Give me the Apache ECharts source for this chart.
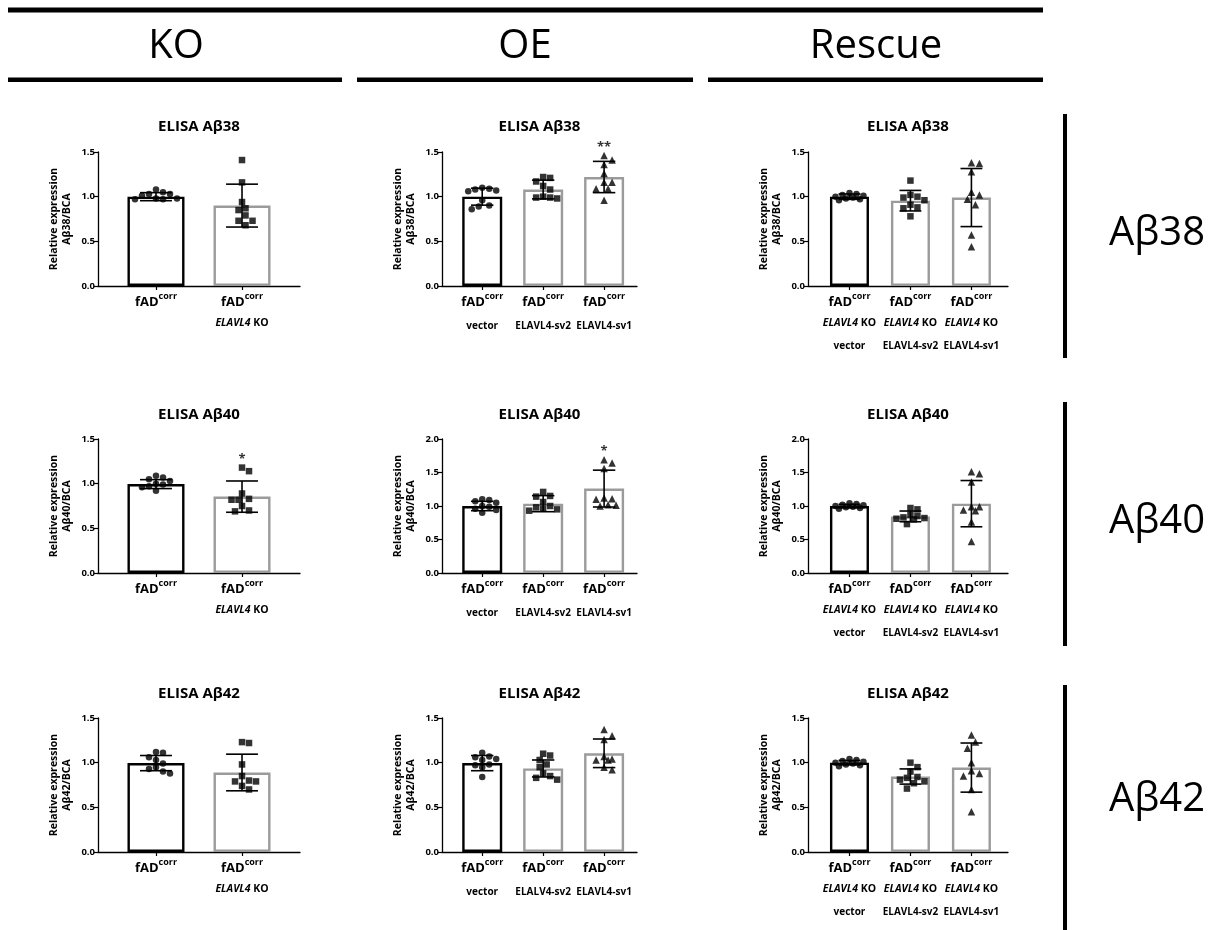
<!DOCTYPE html>
<html>
<head>
<meta charset="utf-8">
<script src="https://cdn.jsdelivr.net/npm/echarts@6/dist/echarts.min.js"></script>
<style>
  html, body { margin: 0; padding: 0; background: #fff; }
  #chart { width: 1216px; height: 930px; }
</style>
</head>
<body>
<div id="chart"></div>
<script>
// ---------------- data: relative expression normalised to BCA ----------------
// category labels (rich-text markup: b = fAD, s = superscript, i = italic gene, t = construct)
const koLabels = ['{b|fAD}{s|corr}', '{b|fAD}{s|corr}\n{i|ELAVL4}{n| KO}'];
const oeLabels = ['{b|fAD}{s|corr}\n{t|vector}', '{b|fAD}{s|corr}\n{t|ELAVL4-sv2}', '{b|fAD}{s|corr}\n{t|ELAVL4-sv1}'];
const oeLabels42 = ['{b|fAD}{s|corr}\n{t|vector}', '{b|fAD}{s|corr}\n{t|ELALV4-sv2}', '{b|fAD}{s|corr}\n{t|ELAVL4-sv1}'];
const rescueLabels = [
  '{b|fAD}{s|corr}\n{i|ELAVL4}{n| KO}\n{t|vector}',
  '{b|fAD}{s|corr}\n{i|ELAVL4}{n| KO}\n{t|ELAVL4-sv2}',
  '{b|fAD}{s|corr}\n{i|ELAVL4}{n| KO}\n{t|ELAVL4-sv1}'
];
const yTickLabelsDigits = 1;

// Aβ38
const ko38Pts = [
  [1.08, 1.05, 1.03, 1.03, 1.01, 0.98, 0.98, 0.97, 0.97],
  [1.41, 1.16, 0.94, 0.87, 0.85, 0.79, 0.73, 0.73, 0.68]
];
const ko38Mean = [1.00, 0.90];
const ko38Sd = [0.045, 0.24];
const ko38Sig = ['', ''];

const oe38Pts = [
  [1.10, 1.09, 1.08, 1.07, 1.06, 0.96, 0.90, 0.89, 0.86],
  [1.22, 1.21, 1.17, 1.12, 1.08, 1.00, 0.99, 0.99, 0.98],
  [1.46, 1.41, 1.36, 1.26, 1.16, 1.16, 1.09, 1.09, 0.96]
];
const oe38Mean = [1.00, 1.08, 1.22];
const oe38Sd = [0.095, 0.105, 0.175];
const oe38Sig = ['', '', '**'];

const res38Pts = [
  [1.04, 1.03, 1.02, 1.01, 1.00, 0.99, 0.98, 0.97, 0.96],
  [1.18, 1.02, 1.00, 0.99, 0.96, 0.91, 0.88, 0.87, 0.78],
  [1.38, 1.37, 1.28, 1.05, 1.02, 0.97, 0.91, 0.57, 0.44]
];
const res38Mean = [1.00, 0.955, 0.99];
const res38Sd = [0.03, 0.115, 0.325];
const res38Sig = ['', '', ''];

// Aβ40
const ko40Pts = [
  [1.09, 1.07, 1.05, 1.03, 1.00, 0.99, 0.97, 0.96, 0.92],
  [1.18, 1.14, 0.89, 0.83, 0.82, 0.82, 0.75, 0.70, 0.69]
];
const ko40Mean = [0.995, 0.855];
const ko40Sd = [0.05, 0.175];
const ko40Sig = ['', '*'];

const oe40Pts = [
  [1.10, 1.09, 1.07, 1.05, 1.00, 0.99, 0.96, 0.94, 0.90],
  [1.21, 1.15, 1.14, 1.06, 1.00, 0.98, 0.96, 0.95, 0.93],
  [1.69, 1.64, 1.56, 1.12, 1.11, 1.10, 1.02, 1.01, 1.00]
];
const oe40Mean = [1.00, 1.035, 1.26];
const oe40Sd = [0.07, 0.12, 0.275];
const oe40Sig = ['', '', '*'];

const res40Pts = [
  [1.04, 1.03, 1.02, 1.01, 1.00, 0.99, 0.98, 0.97, 0.96],
  [0.97, 0.95, 0.87, 0.85, 0.83, 0.82, 0.81, 0.80, 0.73],
  [1.51, 1.48, 1.36, 0.99, 0.99, 0.94, 0.93, 0.76, 0.47]
];
const res40Mean = [1.00, 0.845, 1.035];
const res40Sd = [0.025, 0.08, 0.345];
const res40Sig = ['', '', ''];

// Aβ42
const ko42Pts = [
  [1.12, 1.11, 1.06, 1.03, 0.99, 0.95, 0.93, 0.90, 0.88],
  [1.23, 1.22, 0.98, 0.85, 0.80, 0.79, 0.79, 0.74, 0.70]
];
const ko42Mean = [0.995, 0.89];
const ko42Sd = [0.085, 0.205];
const ko42Sig = ['', ''];

const oe42Pts = [
  [1.11, 1.07, 1.06, 1.04, 1.03, 0.98, 0.97, 0.95, 0.84],
  [1.10, 1.08, 1.03, 0.98, 0.95, 0.88, 0.85, 0.83, 0.81],
  [1.37, 1.30, 1.26, 1.07, 1.04, 1.03, 1.03, 0.95, 0.92]
];
const oe42Mean = [0.995, 0.935, 1.105];
const oe42Sd = [0.085, 0.095, 0.16];
const oe42Sig = ['', '', ''];

const res42Pts = [
  [1.04, 1.03, 1.02, 1.01, 1.00, 0.99, 0.98, 0.97, 0.96],
  [1.00, 0.95, 0.90, 0.84, 0.83, 0.81, 0.79, 0.77, 0.71],
  [1.31, 1.23, 1.16, 1.00, 0.91, 0.88, 0.85, 0.70, 0.45]
];
const res42Mean = [1.00, 0.845, 0.945];
const res42Sd = [0.025, 0.085, 0.275];
const res42Sig = ['', '', ''];

// ---------------- layout & styling ----------------
const FONT = "'Open Sans', 'Noto Sans', sans-serif";
const GRAY = '#9b9b9b';
const SYMBOLS = ['circle', 'rect', 'triangle'];
const SYMBOL_SIZE = { circle: 6.5, rect: 6.5, triangle: 7.5 };

const cols = [
  { left: 98, width: 202, xMin: -0.674, xMax: 1.674, barW: 57 },
  { left: 442, width: 195, xMin: -0.66, xMax: 2.54, barW: 40 },
  { left: 808, width: 200, xMin: -0.68, xMax: 2.6, barW: 39 }
];
const rows = [
  { top: 152, height: 134, titleY: 127 },
  { top: 439, height: 134, titleY: 415 },
  { top: 718, height: 134, titleY: 694 }
];

const panels = [
  { r: 0, c: 0, pts: ko38Pts, mean: ko38Mean, sd: ko38Sd, sig: ko38Sig, labels: koLabels, yMax: 1.5, peptide: 'Aβ38' },
  { r: 0, c: 1, pts: oe38Pts, mean: oe38Mean, sd: oe38Sd, sig: oe38Sig, labels: oeLabels, yMax: 1.5, peptide: 'Aβ38' },
  { r: 0, c: 2, pts: res38Pts, mean: res38Mean, sd: res38Sd, sig: res38Sig, labels: rescueLabels, yMax: 1.5, peptide: 'Aβ38' },
  { r: 1, c: 0, pts: ko40Pts, mean: ko40Mean, sd: ko40Sd, sig: ko40Sig, labels: koLabels, yMax: 1.5, peptide: 'Aβ40' },
  { r: 1, c: 1, pts: oe40Pts, mean: oe40Mean, sd: oe40Sd, sig: oe40Sig, labels: oeLabels, yMax: 2.0, peptide: 'Aβ40' },
  { r: 1, c: 2, pts: res40Pts, mean: res40Mean, sd: res40Sd, sig: res40Sig, labels: rescueLabels, yMax: 2.0, peptide: 'Aβ40' },
  { r: 2, c: 0, pts: ko42Pts, mean: ko42Mean, sd: ko42Sd, sig: ko42Sig, labels: koLabels, yMax: 1.5, peptide: 'Aβ42' },
  { r: 2, c: 1, pts: oe42Pts, mean: oe42Mean, sd: oe42Sd, sig: oe42Sig, labels: oeLabels42, yMax: 1.5, peptide: 'Aβ42' },
  { r: 2, c: 2, pts: res42Pts, mean: res42Mean, sd: res42Sd, sig: res42Sig, labels: rescueLabels, yMax: 1.5, peptide: 'Aβ42' }
];

const rich = {
  b: { fontSize: 13, fontWeight: 'bold', lineHeight: 21, fontFamily: FONT, color: '#000' },
  s: { fontSize: 9, fontWeight: 'bold', lineHeight: 12, verticalAlign: 'top', fontFamily: FONT, color: '#000' },
  i: { fontSize: 10.5, fontWeight: 'bold', fontStyle: 'italic', lineHeight: 20, fontFamily: FONT, color: '#000' },
  n: { fontSize: 10.5, fontWeight: 'bold', lineHeight: 20, fontFamily: FONT, color: '#000' },
  t: { fontSize: 10, fontWeight: 'bold', lineHeight: 27, fontFamily: FONT, color: '#000' }
};

// beeswarm-style horizontal spread of the dots inside each bar (pixel space)
function swarmOffsets(values, pxPerY, pxPerX, halfW, size) {
  const order = values.map((v, i) => i).sort((a, b) => values[b] - values[a]);
  const placed = [];
  const off = new Array(values.length).fill(0);
  const step = size * 0.5;
  const minDist = size * 0.95;
  order.forEach(i => {
    const y = values[i] * pxPerY;
    let best = null, fallback = 0, fallbackDist = -1;
    for (let k = 0; k < 80; k++) {
      const cand = (k % 2 === 1 ? 1 : -1) * Math.ceil(k / 2) * step;
      if (Math.abs(cand) > halfW) continue;
      const d = placed.length ? Math.min.apply(null, placed.map(p => Math.hypot(p.x - cand, p.y - y))) : Infinity;
      if (d >= minDist) { best = cand; break; }
      if (d > fallbackDist) { fallbackDist = d; fallback = cand; }
    }
    if (best === null) best = fallback;
    placed.push({ x: best, y: y });
    off[i] = best / pxPerX;
  });
  return off;
}

const grid = [], xAxis = [], yAxis = [], series = [], graphic = [];

panels.forEach((p, g) => {
  const col = cols[p.c], row = rows[p.r];
  const n = p.mean.length;
  const idx = Array.from({ length: n }, (_, i) => i);
  const pxPerX = col.width / (col.xMax - col.xMin);
  const pxPerY = row.height / p.yMax;

  grid.push({ left: col.left, top: row.top, width: col.width, height: row.height });

  xAxis.push({
    type: 'value', gridIndex: g, min: col.xMin, max: col.xMax,
    axisLine: { show: true, onZero: false, lineStyle: { color: '#000', width: 1.3 } },
    axisTick: { show: true, customValues: idx, length: 4, lineStyle: { color: '#000', width: 1.2 } },
    axisLabel: {
      customValues: idx, margin: 6, align: 'center',
      formatter: v => p.labels[Math.round(v)], rich: rich
    },
    splitLine: { show: false }
  });

  yAxis.push({
    type: 'value', gridIndex: g, min: 0, max: p.yMax, interval: 0.5,
    axisLine: { show: true, onZero: false, lineStyle: { color: '#000', width: 1.3 } },
    axisTick: { show: true, length: 4, lineStyle: { color: '#000', width: 1.2 } },
    axisLabel: {
      formatter: v => v.toFixed(yTickLabelsDigits), fontSize: 9.5, fontWeight: 'bold',
      fontFamily: FONT, color: '#000', margin: 3
    },
    splitLine: { show: false },
    name: 'Relative expression\n' + p.peptide + '/BCA',
    nameLocation: 'middle', nameGap: 24, nameRotate: 90,
    nameTextStyle: { fontSize: 10.5, fontWeight: 'bold', fontFamily: FONT, color: '#000', lineHeight: 13 }
  });

  // bars: mean
  series.push({
    type: 'bar', xAxisIndex: g, yAxisIndex: g, barWidth: col.barW, z: 2,
    data: p.mean.map((m, i) => ({
      value: [i, m],
      itemStyle: { color: '#fff', borderColor: i === 0 ? '#000' : GRAY, borderWidth: 2.4 }
    })),
    silent: true
  });

  // individual replicates
  p.pts.forEach((vals, i) => {
    const sym = SYMBOLS[i];
    const size = SYMBOL_SIZE[sym];
    const offs = swarmOffsets(vals, pxPerY, pxPerX, col.barW / 2 - size / 2 - 0.5, size + 0.5);
    series.push({
      type: 'scatter', xAxisIndex: g, yAxisIndex: g, z: 3, silent: true,
      symbol: sym, symbolSize: size,
      itemStyle: { color: '#000' },
      data: vals.map((v, k) => [i + offs[k], v])
    });
  });

  // error bars: mean ± SD
  const capHalf = col.barW * 0.28;
  series.push({
    type: 'custom', xAxisIndex: g, yAxisIndex: g, z: 4, silent: true,
    data: p.mean.map((m, i) => [i, m, p.sd[i]]),
    encode: { x: 0, y: 1 },
    renderItem: (params, api) => {
      const x = api.value(0), m = api.value(1), s = api.value(2);
      const top = api.coord([x, m + s]);
      const bot = api.coord([x, m - s]);
      const st = { stroke: '#000', lineWidth: 1.6 };
      return {
        type: 'group', children: [
          { type: 'line', shape: { x1: top[0], y1: top[1], x2: bot[0], y2: bot[1] }, style: st },
          { type: 'line', shape: { x1: top[0] - capHalf, y1: top[1], x2: top[0] + capHalf, y2: top[1] }, style: st },
          { type: 'line', shape: { x1: bot[0] - capHalf, y1: bot[1], x2: bot[0] + capHalf, y2: bot[1] }, style: st }
        ]
      };
    }
  });

  // significance marks above the highest replicate
  const sigData = [];
  p.sig.forEach((s, i) => {
    if (s) sigData.push({ name: s, value: [i, Math.max.apply(null, p.pts[i])] });
  });
  if (sigData.length) {
    series.push({
      type: 'scatter', xAxisIndex: g, yAxisIndex: g, z: 5, silent: true,
      symbol: 'circle', symbolSize: 1, itemStyle: { color: 'rgba(0,0,0,0)' },
      label: { show: true, position: 'top', distance: 1, formatter: '{b}', fontSize: 13, fontWeight: 'bold', fontFamily: FONT, color: '#000' },
      data: sigData
    });
  }

  // panel title
  graphic.push({
    type: 'text', silent: true,
    style: {
      text: 'ELISA ' + p.peptide, x: col.left + col.width / 2, y: row.titleY,
      fill: '#000', fontSize: 15, fontWeight: 'bold', fontFamily: FONT, align: 'center', verticalAlign: 'middle'
    }
  });
});

// section headers and separators
const headerFont = { fontSize: 40, fontFamily: FONT, fill: '#000', verticalAlign: 'middle' };
graphic.push({ type: 'rect', silent: true, shape: { x: 8, y: 7.5, width: 1035, height: 5 }, style: { fill: '#000' } });
[[8, 334], [357, 336], [708, 335]].forEach(([x, w]) => {
  graphic.push({ type: 'rect', silent: true, shape: { x: x, y: 77.5, width: w, height: 4.5 }, style: { fill: '#000' } });
});
[['KO', 176], ['OE', 525], ['Rescue', 876]].forEach(([t, x]) => {
  graphic.push({ type: 'text', silent: true, style: Object.assign({ text: t, x: x, y: 47, align: 'center' }, headerFont) });
});
[[114, 358], [402, 646], [685, 930]].forEach(([y0, y1]) => {
  graphic.push({ type: 'rect', silent: true, shape: { x: 1063, y: y0, width: 4, height: y1 - y0 }, style: { fill: '#000' } });
});
[['Aβ38', 234], ['Aβ40', 522], ['Aβ42', 800]].forEach(([t, y]) => {
  graphic.push({ type: 'text', silent: true, style: Object.assign({ text: t, x: 1109, y: y, align: 'left' }, headerFont) });
});

const chart = echarts.init(document.getElementById('chart'), null, { renderer: 'canvas' });
chart.setOption({
  animation: false,
  backgroundColor: '#fff',
  textStyle: { fontFamily: FONT },
  grid: grid, xAxis: xAxis, yAxis: yAxis, series: series, graphic: graphic
});
</script>
</body>
</html>
